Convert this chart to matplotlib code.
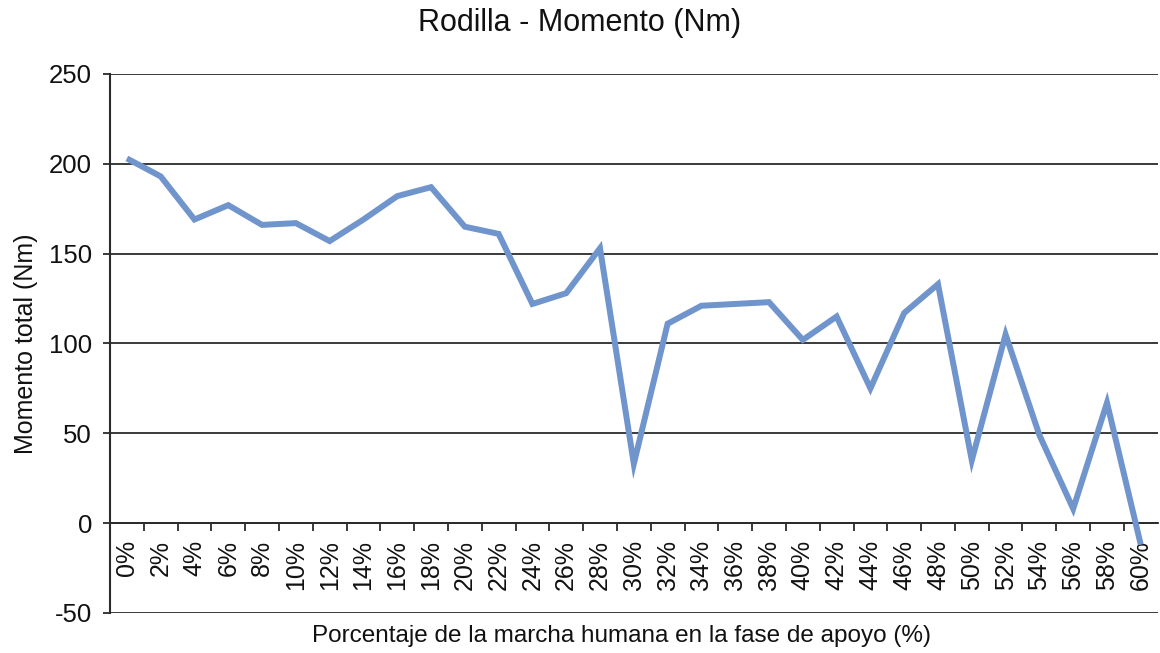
import matplotlib
matplotlib.use("Agg")
import matplotlib.pyplot as plt
import numpy as np

plt.rcParams["font.family"] = ["Liberation Sans", "DejaVu Sans"]
plt.rcParams["axes.unicode_minus"] = False

# percent of stance phase, step 2
categories = [f"{p}%" for p in range(0, 62, 2)]
moment_nm = [
    203, 193, 169, 177, 166, 167, 157, 169, 182, 187,
    165, 161, 122, 128, 153, 33, 111, 121, 122, 123,
    102, 115, 75, 117, 133, 35, 105, 49, 8, 67, -12,
]

line_color = "#7094cc"
text_color = "#111111"
grid_color = "#2b2b2b"

fig = plt.figure(figsize=(11.6, 6.53), dpi=100)
ax = fig.add_axes([0.0948, 0.0613, 0.9032, 0.8254])

x = np.arange(len(categories))
ax.plot(x, moment_nm, color=line_color, linewidth=4.3, solid_joinstyle="miter",
        solid_capstyle="butt", zorder=3)

ax.set_xlim(-0.5, len(categories) - 0.5)
ax.set_ylim(-50, 250)
ax.set_yticks(np.arange(-50, 251, 50))
ax.yaxis.grid(True, color=grid_color, linewidth=1.3)
ax.set_axisbelow(True)

# category axis sits on y = 0
for side in ("top", "right"):
    ax.spines[side].set_visible(False)
ax.spines["bottom"].set_position(("data", 0))
ax.spines["bottom"].set_color(grid_color)
ax.spines["bottom"].set_linewidth(1.3)
ax.spines["left"].set_color(grid_color)
ax.spines["left"].set_linewidth(1.5)

ax.set_xticks(x)
ax.set_xticklabels(categories, rotation=90, fontsize=18, color=text_color)
ax.set_xticks(np.arange(-0.5, len(categories) - 0.5, 1.0), minor=True)
ax.tick_params(axis="x", which="major", length=0, pad=12)
ax.tick_params(axis="x", which="minor", direction="out", length=6,
               width=1.3, color=grid_color)
ax.tick_params(axis="y", direction="out", length=5, width=1.3,
               color=grid_color, labelsize=18.5, labelcolor=text_color, pad=8)

ax.set_ylabel("Momento total (Nm)", fontsize=18, color=text_color, labelpad=8)
fig.text(0.5, 0.965, "Rodilla - Momento (Nm)", ha="center", va="center",
         fontsize=22, color=text_color)
fig.text(0.536, 0.026, "Porcentaje de la marcha humana en la fase de apoyo (%)",
         ha="center", va="center", fontsize=17.5, color=text_color)

fig.savefig("out.png", dpi=100, facecolor="white")
